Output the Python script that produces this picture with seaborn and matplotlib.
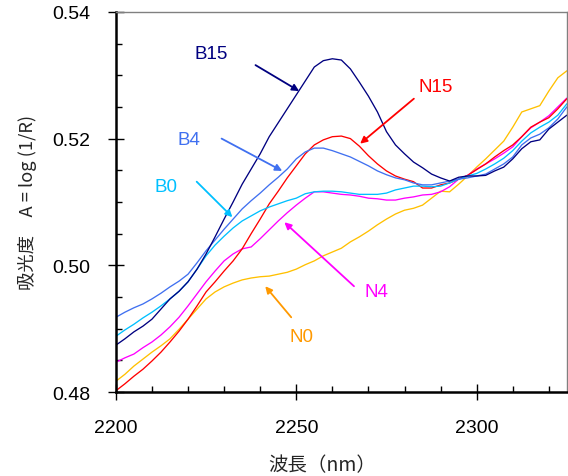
import numpy as np
import pandas as pd
import matplotlib
matplotlib.use("Agg")
import matplotlib.pyplot as plt
import seaborn as sns
from matplotlib.ticker import MultipleLocator, FormatStrFormatter

wavelength = [2200, 2202.5, 2205, 2207.5, 2210, 2212.5, 2215, 2217.5, 2220, 2222.5,
              2225, 2227.5, 2230, 2232.5, 2235, 2237.5, 2240, 2242.5, 2245, 2247.5,
              2250, 2252.5, 2255, 2257.5, 2260, 2262.5, 2265, 2267.5, 2270, 2272.5,
              2275, 2277.5, 2280, 2282.5, 2285, 2287.5, 2290, 2292.5, 2295, 2297.5,
              2300, 2302.5, 2305, 2307.5, 2310, 2312.5, 2315, 2317.5, 2320, 2322.5,
              2325]

B15 = [0.4874, 0.4884, 0.4895, 0.4904, 0.4915, 0.4931, 0.4947, 0.4959, 0.4974, 0.4994,
       0.5018, 0.5045, 0.5073, 0.5100, 0.5128, 0.5152, 0.5176, 0.5203, 0.5225, 0.5247,
       0.5269, 0.5291, 0.5313, 0.5323, 0.5326, 0.5324, 0.5310, 0.5289, 0.5267, 0.5242,
       0.5211, 0.5190, 0.5176, 0.5163, 0.5154, 0.5144, 0.5138, 0.5133, 0.5139, 0.5141,
       0.5141, 0.5142, 0.5149, 0.5155, 0.5168, 0.5184, 0.5195, 0.5198, 0.5215, 0.5226,
       0.5237]
B4 = [0.4918, 0.4926, 0.4933, 0.4939, 0.4947, 0.4956, 0.4966, 0.4975, 0.4986, 0.5004,
      0.5023, 0.5040, 0.5057, 0.5073, 0.5089, 0.5102, 0.5114, 0.5127, 0.5139, 0.5152,
      0.5168, 0.5179, 0.5185, 0.5185, 0.5181, 0.5176, 0.5171, 0.5164, 0.5157, 0.5149,
      0.5143, 0.5138, 0.5135, 0.5130, 0.5127, 0.5127, 0.5130, 0.5133, 0.5136, 0.5138,
      0.5141, 0.5144, 0.5152, 0.5160, 0.5171, 0.5190, 0.5201, 0.5207, 0.5217, 0.5231,
      0.5250]
B0 = [0.4888, 0.4898, 0.4907, 0.4917, 0.4926, 0.4936, 0.4947, 0.4959, 0.4974, 0.4994,
      0.5015, 0.5032, 0.5046, 0.5059, 0.5070, 0.5078, 0.5086, 0.5092, 0.5097, 0.5102,
      0.5106, 0.5113, 0.5116, 0.5117, 0.5117, 0.5116, 0.5114, 0.5112, 0.5112, 0.5112,
      0.5114, 0.5119, 0.5122, 0.5125, 0.5125, 0.5124, 0.5125, 0.5130, 0.5136, 0.5141,
      0.5145, 0.5152, 0.5160, 0.5169, 0.5181, 0.5196, 0.5209, 0.5218, 0.5226, 0.5237,
      0.5255]
N15 = [0.4802, 0.4813, 0.4825, 0.4836, 0.4849, 0.4863, 0.4879, 0.4896, 0.4915, 0.4936,
       0.4958, 0.4974, 0.4991, 0.5007, 0.5026, 0.5050, 0.5073, 0.5097, 0.5117, 0.5138,
       0.5157, 0.5176, 0.5190, 0.5198, 0.5203, 0.5204, 0.5200, 0.5188, 0.5173, 0.5160,
       0.5149, 0.5141, 0.5136, 0.5132, 0.5122, 0.5122, 0.5127, 0.5130, 0.5136, 0.5142,
       0.5151, 0.5160, 0.5171, 0.5181, 0.5190, 0.5203, 0.5218, 0.5226, 0.5233, 0.5247,
       0.5263]
N4 = [0.4847, 0.4854, 0.4860, 0.4870, 0.4879, 0.4890, 0.4903, 0.4918, 0.4936, 0.4955,
      0.4974, 0.4991, 0.5007, 0.5018, 0.5026, 0.5029, 0.5042, 0.5056, 0.5070, 0.5083,
      0.5095, 0.5106, 0.5116, 0.5116, 0.5114, 0.5112, 0.5111, 0.5109, 0.5106, 0.5105,
      0.5103, 0.5103, 0.5106, 0.5108, 0.5111, 0.5112, 0.5116, 0.5124, 0.5136, 0.5142,
      0.5152, 0.5160, 0.5168, 0.5177, 0.5187, 0.5203, 0.5217, 0.5226, 0.5236, 0.5250,
      0.5264]
N0 = [0.4817, 0.4828, 0.4841, 0.4852, 0.4863, 0.4873, 0.4884, 0.4899, 0.4915, 0.4931,
      0.4947, 0.4958, 0.4966, 0.4972, 0.4977, 0.4980, 0.4982, 0.4983, 0.4986, 0.4989,
      0.4994, 0.5001, 0.5007, 0.5015, 0.5021, 0.5027, 0.5037, 0.5045, 0.5054, 0.5064,
      0.5073, 0.5081, 0.5087, 0.5090, 0.5095, 0.5106, 0.5117, 0.5116, 0.5128, 0.5141,
      0.5155, 0.5168, 0.5182, 0.5196, 0.5218, 0.5242, 0.5247, 0.5252, 0.5275, 0.5296,
      0.5307]

series_names = ["N0", "N4", "N15", "B0", "B4", "B15"]
series_values = [N0, N4, N15, B0, B4, B15]
line_colors = {"N0": "#FFC000", "N4": "#FF00FF", "N15": "#FF0000",
               "B0": "#00C0FF", "B4": "#4070F0", "B15": "#000080"}
label_colors = {"N0": "#FF9900", "N4": "#FF00FF", "N15": "#FF0000",
                "B0": "#00C0FF", "B4": "#4070F0", "B15": "#000080"}

# label position, arrow tail, arrow head (data coords)
annotations = {
    "B15": ((2226.5, 0.5334), (2238.7, 0.5316), (2250.8, 0.5275)),
    "B4": ((2220.2, 0.5198), (2229.3, 0.5200), (2246.1, 0.5149)),
    "B0": ((2213.8, 0.5124), (2222.4, 0.5132), (2232.3, 0.5076)),
    "N15": ((2288.7, 0.5282), (2282.6, 0.5263), (2267.7, 0.5192)),
    "N4": ((2272.1, 0.4959), (2266.0, 0.4967), (2246.7, 0.5068)),
    "N0": ((2251.4, 0.4887), (2248.6, 0.4918), (2241.4, 0.4967)),
}

rows = []
for name, vals in zip(series_names, series_values):
    for w, v in zip(wavelength, vals):
        rows.append({"wavelength": w, "A": v, "sample": name})
df = pd.DataFrame(rows)

sns.set_style("white")
plt.rcParams['font.family'] = ['Noto Sans CJK JP', 'DejaVu Sans']
latin = ["Liberation Sans", "DejaVu Sans"]

fig = plt.figure(figsize=(5.68, 4.77), dpi=100)
ax = fig.add_axes([0.204, 0.176, 0.794, 0.797])

sns.lineplot(data=df, x="wavelength", y="A", hue="sample", palette=line_colors,
             hue_order=series_names, linewidth=0.95, legend=False, ax=ax)

for name, (lab, tail, head) in annotations.items():
    ax.text(lab[0], lab[1], name, color=label_colors[name], fontsize=13.5,
            ha="center", va="center", family=latin)
    ax.annotate("", xy=head, xytext=tail,
                arrowprops=dict(arrowstyle="-|>", color=label_colors[name],
                                lw=1.3, mutation_scale=10, shrinkA=0, shrinkB=0))

ax.set_xlim(2200, 2325)
ax.set_ylim(0.48, 0.54)
ax.xaxis.set_major_locator(MultipleLocator(50))
ax.xaxis.set_minor_locator(MultipleLocator(10))
ax.yaxis.set_major_locator(MultipleLocator(0.02))
ax.yaxis.set_minor_locator(MultipleLocator(0.005))
ax.yaxis.set_major_formatter(FormatStrFormatter("%.2f"))

ax.tick_params(axis="both", which="both", bottom=True, left=True, top=False, right=False)
ax.tick_params(axis="both", which="major", direction="inout", length=11,
               width=1.0, labelsize=14, colors="black")
ax.tick_params(axis="x", which="major", pad=14)
ax.tick_params(axis="y", which="major", pad=13)
ax.tick_params(axis="both", which="minor", direction="in", length=4.5, width=1.0,
               colors="black")
for lab in ax.get_xticklabels() + ax.get_yticklabels():
    lab.set_family(latin)

for side in ["left", "bottom"]:
    ax.spines[side].set_color("black")
    ax.spines[side].set_linewidth(1.8)
for side in ["top", "right"]:
    ax.spines[side].set_color("#808080")
    ax.spines[side].set_linewidth(1.0)

ax.set_xlabel("波長（nm）", fontsize=14)
ax.set_ylabel("吸光度　A = log (1/R)", fontsize=13.2)
ax.xaxis.set_label_coords(0.457, -0.163)
ax.yaxis.set_label_coords(-0.175, 0.5)

fig.savefig("out.png", dpi=100)
